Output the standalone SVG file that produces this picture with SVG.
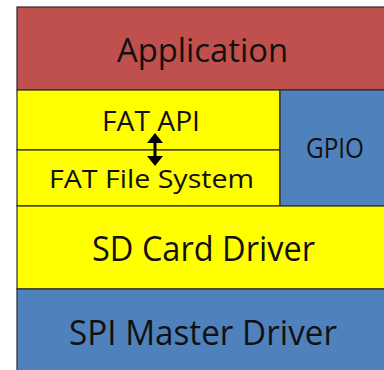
<svg xmlns="http://www.w3.org/2000/svg" width="384" height="370" viewBox="0 0 384 370">
<defs>
<style>
.box{stroke:#2b2b2b;stroke-width:1.2}
.red{fill:#C0504D}.yel{fill:#FFFF00}.blu{fill:#4F81BD}
text{font-family:"Open Sans","Liberation Sans",sans-serif;fill:#111;text-anchor:middle}
</style>
<marker id="ah" viewBox="0 0 10 16" markerWidth="10" markerHeight="16" refX="1" refY="8" orient="auto-start-reverse" markerUnits="userSpaceOnUse">
<path d="M0,0 L10,8 L0,16 z" fill="#000"/>
</marker>
</defs>
<rect width="384" height="370" fill="#fff"/>
<g id="application">
<rect class="box red" x="17" y="7" width="372" height="83"/>
<text x="202.5" y="62" font-size="33" textLength="171" lengthAdjust="spacingAndGlyphs">Application</text>
</g>
<g id="fat-api">
<rect class="box yel" x="17" y="90" width="263" height="60"/>
<text x="151" y="131" font-size="28" textLength="98" lengthAdjust="spacingAndGlyphs">FAT API</text>
</g>
<g id="fat-fs">
<rect class="box yel" x="17" y="150" width="263" height="56"/>
<text x="151.5" y="188" font-size="26" textLength="205" lengthAdjust="spacingAndGlyphs">FAT File System</text>
</g>
<g id="gpio">
<rect class="box blu" x="280" y="90" width="109" height="116"/>
<text x="335" y="157.5" font-size="27" textLength="58" lengthAdjust="spacingAndGlyphs">GPIO</text>
</g>
<g id="sd-card-driver">
<rect class="box yel" x="17" y="206" width="372" height="83"/>
<text x="203.5" y="260.5" font-size="34" textLength="223" lengthAdjust="spacingAndGlyphs">SD Card Driver</text>
</g>
<g id="spi-master-driver">
<rect class="box blu" x="17" y="289" width="372" height="90"/>
<text x="203" y="344.5" font-size="34" textLength="268" lengthAdjust="spacingAndGlyphs">SPI Master Driver</text>
</g>
<g id="connectors">
<line x1="155" y1="142" x2="155" y2="157" stroke="#000" stroke-width="3" marker-start="url(#ah)" marker-end="url(#ah)"/>
</g>
</svg>
